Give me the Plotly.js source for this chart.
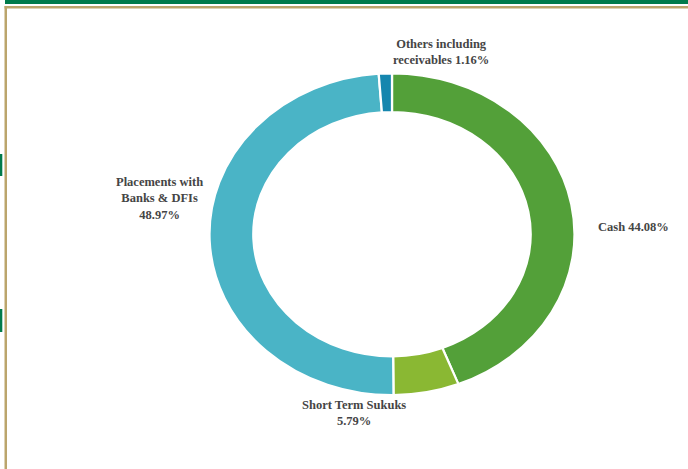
<!DOCTYPE html>
<html>
<head>
<meta charset="utf-8">
<script src="https://cdn.plot.ly/plotly-3.0.1.min.js"></script>
<style>
html,body{margin:0;padding:0;background:#fff;}
#chart{width:688px;height:469px;}
.pielayer{transform:scaleX(1.135);transform-origin:392px 234.2px;}
</style>
</head>
<body>
<div id="chart"></div>
<script>
const categories = ["Cash", "Short Term Sukuks", "Placements with Banks & DFIs", "Others including receivables"];
const values = [44.08, 5.79, 48.97, 1.16];
const colors = ["#53a039", "#8ab833", "#4ab4c6", "#1586ae"];
const labelTexts = ["Cash 44.08%", "Short Term Sukuks<br>5.79%", "Placements with<br>Banks & DFIs<br>48.97%", "Others including<br>receivables 1.16%"];

const W = 688, H = 469;
const cx = 392, cy = 234.2, r = 160.8;
const labelPos = [[633, 227], [354, 413], [159, 199], [441, 52]];

const trace = {
  type: "pie",
  labels: categories,
  values: values,
  sort: false,
  direction: "clockwise",
  rotation: 0,
  hole: 0.76,
  textinfo: "none",
  hoverinfo: "label+percent",
  marker: {colors: colors, line: {color: "#ffffff", width: 2}},
  domain: {x: [(cx - r) / W, (cx + r) / W], y: [(H - cy - r) / H, (H - cy + r) / H]},
  showlegend: false
};

const annotations = categories.map((c, i) => ({
  xref: "paper", yref: "paper",
  x: labelPos[i][0] / W, y: 1 - labelPos[i][1] / H,
  xanchor: "center", yanchor: "middle",
  text: "<b>" + labelTexts[i] + "</b>",
  showarrow: false,
  align: "center",
  font: {family: "Liberation Serif, serif", size: 12.5, color: "#454545"}
}));

const px = (x) => x / W, py = (y) => 1 - y / H;
const shapes = [
  {type: "rect", xref: "paper", yref: "paper", x0: px(5), x1: px(688), y0: py(0), y1: py(4), fillcolor: "#007b4b", line: {width: 0}},
  {type: "rect", xref: "paper", yref: "paper", x0: px(4.5), x1: px(688), y0: py(6), y1: py(8.5), fillcolor: "#bba56c", line: {width: 0}},
  {type: "rect", xref: "paper", yref: "paper", x0: px(4.5), x1: px(7), y0: py(6), y1: py(469), fillcolor: "#bba56c", line: {width: 0}},
  {type: "rect", xref: "paper", yref: "paper", x0: px(0), x1: px(2.3), y0: py(154), y1: py(176), fillcolor: "#007b4b", line: {width: 0}},
  {type: "rect", xref: "paper", yref: "paper", x0: px(0), x1: px(2.3), y0: py(309), y1: py(332), fillcolor: "#007b4b", line: {width: 0}}
];

const layout = {
  width: W, height: H,
  margin: {l: 0, r: 0, t: 0, b: 0},
  paper_bgcolor: "#ffffff",
  plot_bgcolor: "#ffffff",
  annotations: annotations,
  shapes: shapes,
  showlegend: false
};

Plotly.newPlot("chart", [trace], layout, {displayModeBar: false, staticPlot: true});
</script>
</body>
</html>
